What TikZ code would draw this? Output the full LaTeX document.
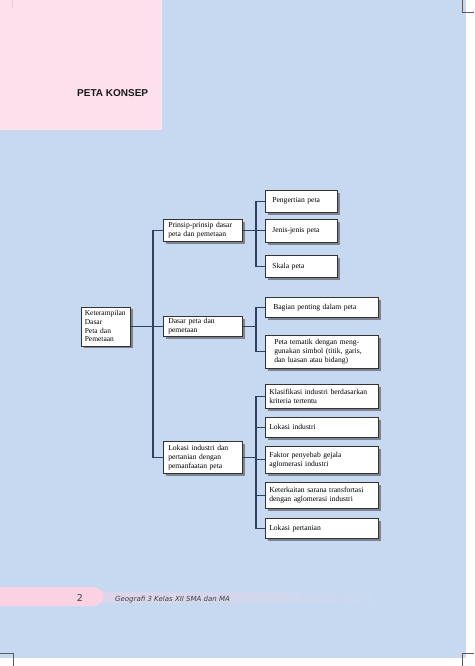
\documentclass[tikz,border=0pt]{standalone}
\usepackage{fontspec}
\setmainfont{Liberation Serif}
\newfontfamily\judulfont{Liberation Sans}
\newfontfamily\kakifont{DejaVu Sans}
\usetikzlibrary{shadows}
\definecolor{latar}{RGB}{198,217,240}
\definecolor{merahmuda}{RGB}{252,224,236}
\definecolor{merahkaki}{RGB}{251,210,226}
\definecolor{garisbiru}{RGB}{48,64,94}
\definecolor{bayang}{RGB}{125,131,145}
\definecolor{tanda}{RGB}{90,90,95}

\begin{document}
\begin{tikzpicture}[x=1pt, y=-1pt,
  kotak/.style={draw=black!80, line width=0.6pt, fill=white, anchor=north west,
    align=left, inner xsep=5pt, inner ysep=1pt,
    font=\fontsize{7.6}{9}\selectfont,
    drop shadow={shadow xshift=2.2pt, shadow yshift=-2.2pt, opacity=1, fill=bayang}},
  garis/.style={garisbiru, line width=1.1pt}]
  \useasboundingbox (0,0) rectangle (474,666);
  % halaman
  \fill[latar] (0,0) rectangle (466,658);
  \fill[merahmuda] (0,0) rectangle (162,130);
  \shade[left color=latar!55!merahkaki, right color=latar] (100,592) rectangle (390,602);
  \fill[merahkaki, rounded corners=9.5pt] (-14,587) rectangle (103,606);
  \draw[tanda, line width=0.7pt] (462,0) -- (462,12) -- (474,12);
  \draw[tanda, line width=0.7pt] (0,653) -- (13,653) -- (13,666);
  \draw[tanda, line width=0.7pt] (474,653) -- (462,653) -- (462,666);
  \draw[merahkaki!70!tanda, line width=0.5pt, opacity=0.4] (12,0) -- (12,8);

  \node[font=\judulfont\bfseries\fontsize{10}{12}\selectfont, text=black!90,
    anchor=base west, inner sep=0] (judul) at (77,97) {PETA KONSEP};

  % kotak konsep
  \node[kotak, text width=42pt, inner xsep=3.5pt, minimum height=39pt,
    font=\fontsize{7.5}{8.6}\selectfont] (akar) at (81,306.5)
    {Keterampilan\\Dasar\\Peta dan\\Pemetaan};

  \node[kotak, text width=69pt, minimum height=22pt] (prinsip) at (163,219)
    {Prinsip-prinsip dasar\\peta dan pemetaan};
  \node[kotak, text width=69pt, minimum height=20pt] (dasar) at (163,316)
    {Dasar peta dan\\pemetaan};
  \node[kotak, text width=69pt, minimum height=32pt] (lokasi) at (163,441)
    {Lokasi industri dan\\pertanian dengan\\pemanfaatan peta};

  \node[kotak, text width=58pt, inner xsep=7pt, minimum height=22pt] (pengertian) at (265,190) {Pengertian peta};
  \node[kotak, text width=58pt, inner xsep=7pt, minimum height=23pt] (jenis) at (265,219) {Jenis-jenis peta};
  \node[kotak, text width=58pt, inner xsep=7pt, minimum height=22pt] (skala) at (265,255) {Skala peta};

  \node[kotak, text width=97pt, inner xsep=8pt, minimum height=20pt] (bagian) at (265,297) {Bagian penting dalam peta};
  \node[kotak, text width=95pt, inner xsep=9pt, minimum height=33pt] (tematik) at (265,335)
    {Peta tematik dengan meng-\\gunakan simbol (titik, garis,\\dan luasan atau bidang)};

  \node[kotak, text width=105pt, inner xsep=4pt, minimum height=24pt] (klasifikasi) at (265,384)
    {Klasifikasi industri berdasarkan\\kriteria tertentu};
  \node[kotak, text width=105pt, inner xsep=4pt, minimum height=20pt] (lokind) at (265,417) {Lokasi industri};
  \node[kotak, text width=105pt, inner xsep=4pt, minimum height=27pt] (faktor) at (265,446)
    {Faktor penyebab gejala\\aglomerasi industri};
  \node[kotak, text width=105pt, inner xsep=4pt, minimum height=26pt] (keterkaitan) at (265,482)
    {Keterkaitan sarana transfortasi\\dengan aglomerasi industri};
  \node[kotak, text width=105pt, inner xsep=4pt, minimum height=20pt] (lokper) at (265,518) {Lokasi pertanian};

  % garis penghubung
  \coordinate (cabang) at (153,0);
  \coordinate (cabangA) at (256,0);
  \draw[garis] (akar.east) -- (dasar.west);
  \draw[garis] (prinsip.west) -| (cabang |- lokasi.west) -- (lokasi.west);

  \draw[garis] (prinsip.east) -- (cabangA |- prinsip.east);
  \draw[garis] (pengertian.west) -| (cabangA |- skala.west) -- (skala.west);
  \draw[garis] (jenis.west) -- (cabangA |- jenis.west);

  \draw[garis] (dasar.east) -- (cabangA |- dasar.east);
  \draw[garis] (bagian.west) -| (cabangA |- tematik.west) -- (tematik.west);

  \draw[garis] (lokasi.east) -- (cabangA |- lokasi.east);
  \draw[garis] (klasifikasi.west) -| (cabangA |- lokper.west) -- (lokper.west);
  \foreach \n in {lokind, faktor, keterkaitan} {
    \draw[garis] (\n.west) -- (cabangA |- \n.west);
  }

  % kaki halaman
  \node[font=\kakifont\fontsize{9.5}{11}\selectfont, text=black!75, anchor=base,
    inner sep=0] (halaman) at (80,601) {2};
  \node[font=\kakifont\itshape\fontsize{7}{8}\selectfont, text=black!75,
    anchor=base west, inner sep=0] (judulbuku) at (115,601) {Geografi 3 Kelas XII SMA dan MA};
\end{tikzpicture}
\end{document}
